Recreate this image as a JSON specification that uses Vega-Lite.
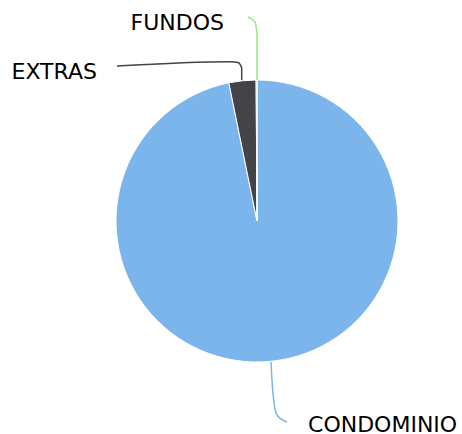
{
  "$schema": "https://vega.github.io/schema/vega-lite/v6.json",
  "width": 410,
  "height": 426,
  "autosize": {"type": "none"},
  "padding": {"left": 52, "top": 8, "right": 0, "bottom": 0},
  "background": "white",
  "config": {"view": {"stroke": null}},
  "datasets": {
    "slices": [
      {"name": "CONDOMINIO", "value": 96.8, "idx": 1},
      {"name": "EXTRAS", "value": 3.1, "idx": 2},
      {"name": "FUNDOS", "value": 0.1, "idx": 3}
    ],
    "connectors": [
      {"name": "CONDOMINIO", "step": 1, "px": 0.099, "py": -1.0},
      {"name": "CONDOMINIO", "step": 2, "px": 0.113, "py": -1.22},
      {"name": "CONDOMINIO", "step": 3, "px": 0.142, "py": -1.376},
      {"name": "CONDOMINIO", "step": 4, "px": 0.213, "py": -1.426},
      {"name": "EXTRAS", "step": 1, "px": -0.1085, "py": 1.0},
      {"name": "EXTRAS", "step": 2, "px": -0.1085, "py": 1.085},
      {"name": "EXTRAS", "step": 3, "px": -0.135, "py": 1.124},
      {"name": "EXTRAS", "step": 4, "px": -0.191, "py": 1.13},
      {"name": "EXTRAS", "step": 5, "px": -0.993, "py": 1.099},
      {"name": "FUNDOS", "step": 1, "px": 0.0, "py": 1.0},
      {"name": "FUNDOS", "step": 2, "px": 0.0, "py": 1.319},
      {"name": "FUNDOS", "step": 3, "px": -0.014, "py": 1.411},
      {"name": "FUNDOS", "step": 4, "px": -0.064, "py": 1.447}
    ],
    "labels": [
      {"name": "CONDOMINIO", "lx": 0.362, "ly": -1.447, "side": "left"},
      {"name": "EXTRAS", "lx": -1.135, "ly": 1.057, "side": "right"},
      {"name": "FUNDOS", "lx": -0.234, "ly": 1.404, "side": "right"}
    ]
  },
  "layer": [
    {
      "data": {"name": "slices"},
      "mark": {"type": "arc", "outerRadius": 141, "stroke": "white", "strokeWidth": 1},
      "encoding": {
        "theta": {"field": "value", "type": "quantitative", "stack": true},
        "order": {"field": "idx", "type": "quantitative", "sort": "ascending"},
        "color": {
          "field": "name", "type": "nominal",
          "scale": {"domain": ["CONDOMINIO", "EXTRAS", "FUNDOS"], "range": ["#7cb5ec", "#434348", "#90ed7d"]},
          "legend": null
        }
      }
    },
    {
      "data": {"name": "connectors"},
      "mark": {"type": "line", "interpolate": "monotone", "strokeWidth": 1.5},
      "encoding": {
        "x": {"field": "px", "type": "quantitative", "scale": {"domain": [-1.4539, 1.4539], "nice": false, "zero": false}, "axis": null},
        "y": {"field": "py", "type": "quantitative", "scale": {"domain": [-1.5106, 1.5106], "nice": false, "zero": false}, "axis": null},
        "order": {"field": "step", "type": "quantitative"},
        "color": {"field": "name", "type": "nominal", "legend": null}
      }
    },
    {
      "data": {"name": "labels"},
      "transform": [{"filter": "datum.side === 'right'"}],
      "mark": {"type": "text", "align": "right", "baseline": "middle", "font": "DejaVu Sans", "fontSize": 22, "color": "#000000"},
      "encoding": {
        "x": {"field": "lx", "type": "quantitative"},
        "y": {"field": "ly", "type": "quantitative"},
        "text": {"field": "name"}
      }
    },
    {
      "data": {"name": "labels"},
      "transform": [{"filter": "datum.side === 'left'"}],
      "mark": {"type": "text", "align": "left", "baseline": "middle", "font": "DejaVu Sans", "fontSize": 22, "color": "#000000"},
      "encoding": {
        "x": {"field": "lx", "type": "quantitative"},
        "y": {"field": "ly", "type": "quantitative"},
        "text": {"field": "name"}
      }
    }
  ]
}
